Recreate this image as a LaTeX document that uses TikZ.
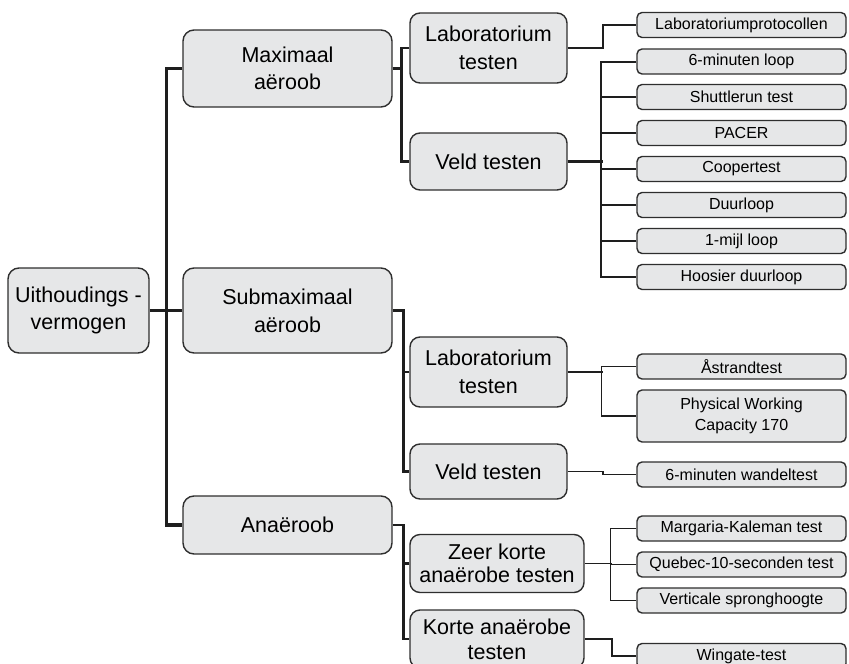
\documentclass[tikz,border=0pt]{standalone}
\usepackage{fontspec}
\setmainfont{Liberation Sans}
\definecolor{boxfill}{HTML}{E6E7E8}
\definecolor{boxline}{HTML}{2E2E2E}
\definecolor{wire}{HTML}{1E1E1E}
\tikzset{
  box/.style={draw=boxline, line width=1.4pt, fill=boxfill, inner sep=0pt,
    align=center, text=black},
  topbox/.style={box, rounded corners=11pt, minimum width=209pt,
    font=\fontsize{21.5}{26.5}\selectfont},
  midbox/.style={box, rounded corners=10pt, minimum width=157pt,
    font=\fontsize{21.5}{28}\selectfont},
  leafbox/.style={box, rounded corners=5pt, minimum width=209pt,
    minimum height=25pt, font=\fontsize{16}{21.5}\selectfont},
  wire0/.style={draw=wire, line width=3.6pt},
  wire1/.style={draw=wire, line width=2.5pt},
  wire2/.style={draw=wire, line width=1.6pt},
}
\begin{document}
\begin{tikzpicture}[x=1pt, y=-1pt]
\useasboundingbox (0,0) rectangle (849,664);
\clip (0,0) rectangle (849,664);

% root and first level
\node[topbox, minimum width=141pt, minimum height=85pt] (root) at (78.5,310.5) {Uithoudings -\\vermogen};
\node[topbox, minimum height=77pt] (max) at (287.5,68.5) {Maximaal\\aëroob};
\node[topbox, minimum height=85pt, font=\fontsize{21.5}{28}\selectfont] (sub) at (287.5,310.5) {Submaximaal\\aëroob};
\node[topbox, minimum height=58pt] (ana) at (287.5,525) {Anaëroob};

% second level
\node[midbox, minimum height=70pt] (labA) at (488.5,48) {Laboratorium\\testen};
\node[midbox, minimum height=57pt] (veldA) at (488.5,161.5) {Veld testen};
\node[midbox, minimum height=70pt] (labB) at (488.5,372) {Laboratorium\\testen};
\node[midbox, minimum height=55pt] (veldB) at (488.5,471.5) {Veld testen};
\node[midbox, minimum width=174pt, minimum height=58pt, font=\fontsize{21.5}{23.5}\selectfont] (zeer) at (497,563.5) {Zeer korte\\anaërobe testen};
\node[midbox, minimum width=174pt, minimum height=58pt, font=\fontsize{21.5}{25}\selectfont] (korte) at (497,639) {Korte anaërobe\\testen};

% leaves
\node[leafbox] (l1)  at (741.5,25)    {Laboratoriumprotocollen};
\node[leafbox] (l2)  at (741.5,61.5)  {6-minuten loop};
\node[leafbox] (l3)  at (741.5,97)    {Shuttlerun test};
\node[leafbox] (l4)  at (741.5,133)   {PACER};
\node[leafbox] (l5)  at (741.5,169)   {Coopertest};
\node[leafbox] (l6)  at (741.5,205)   {Duurloop};
\node[leafbox] (l7)  at (741.5,241)   {1-mijl loop};
\node[leafbox] (l8)  at (741.5,277)   {Hoosier duurloop};
\node[leafbox] (l9)  at (741.5,366.5) {Åstrandtest};
\node[leafbox, minimum height=52pt] (l10) at (741.5,416) {Physical Working\\Capacity 170};
\node[leafbox] (l11) at (741.5,474.5) {6-minuten wandeltest};
\node[leafbox] (l12) at (741.5,528.5) {Margaria-Kaleman test};
\node[leafbox] (l13) at (741.5,564.5) {Quebec-10-seconden test};
\node[leafbox] (l14) at (741.5,600.5) {Verticale spronghoogte};
\node[leafbox] (l15) at (741.5,656) {Wingate-test};

% root to first level
\draw[wire0] (max.west) -- ++(-16,0) |- (ana.west);
\draw[wire0] (root.east) -- (sub.west);

% first to second level
\draw[wire1] (max.east) -- ++(10,0);
\draw[wire1] (labA.west) -- ++(-8,0) |- (veldA.west);
\draw[wire1] (sub.east) -- ++(11,0) |- (veldB.west);
\draw[wire1] (labB.west) -- ++(-7,0);
\draw[wire1] (ana.east) -- ++(11,0) |- (korte.west);
\draw[wire1] (zeer.west) -- ++(-7,0);

% second level to leaves
\draw[wire2] (labA.east) -- ++(35,0) |- (l1.west);
\draw[wire1, line width=2.2pt] (veldA.east) -- ++(35,0);
\draw[wire2, line width=2pt] (l2.west) -- ++(-35,0) |- (l8.west);
\foreach \n in {l3,l4,l5,l6,l7}
  \draw[wire2] (\n.west) -- ++(-35,0);
\draw[wire2] (labB.east) -- ++(35,0);
\draw[wire2] (l9.west) -- ++(-35,0) |- (l10.west);
\draw[wire2] (veldB.east) -- ++(35,0) |- (l11.west);
\draw[wire2] (zeer.east) -- ++(27,0);
\draw[wire2] (l12.west) -- ++(-26,0) |- (l14.west);
\draw[wire2] (l13.west) -- ++(-26,0);
\draw[wire2] (korte.east) -- ++(27,0) |- (l15.west);
\end{tikzpicture}
\end{document}
